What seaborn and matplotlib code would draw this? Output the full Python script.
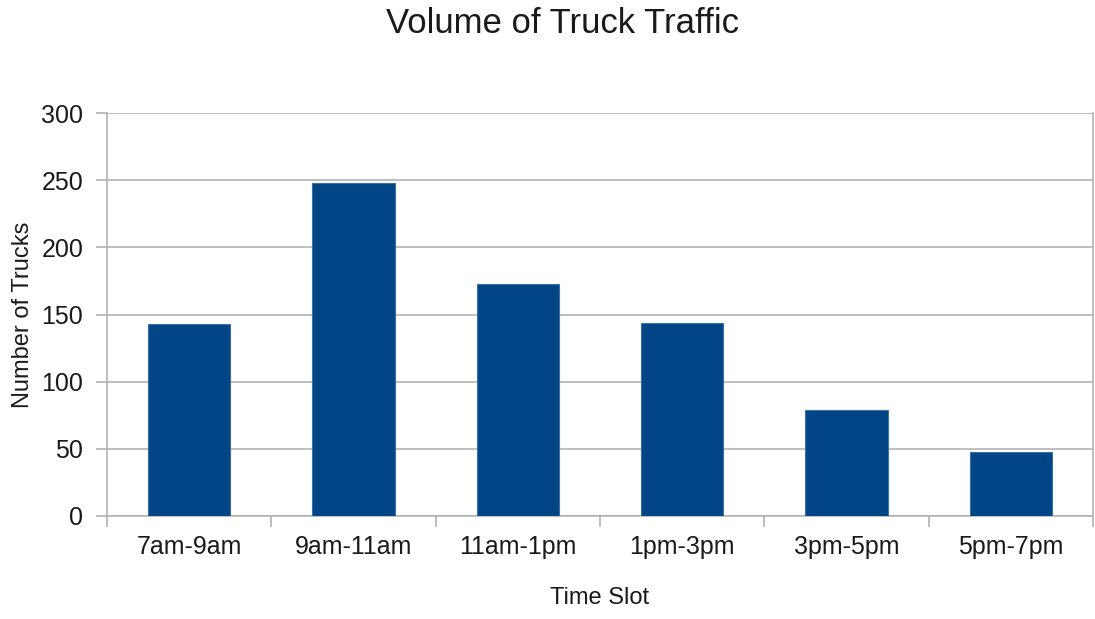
import matplotlib
matplotlib.use("Agg")
import matplotlib.pyplot as plt
import seaborn as sns
import pandas as pd

# Truck counts per two-hour slot
time_slots = ["7am-9am", "9am-11am", "11am-1pm", "1pm-3pm", "3pm-5pm", "5pm-7pm"]
truck_counts = [143, 248, 173, 144, 79, 48]

df = pd.DataFrame({"Time Slot": time_slots, "Number of Trucks": truck_counts})

sns.set_style("white")
plt.rcParams["font.family"] = ["Liberation Sans", "DejaVu Sans"]

grid_color = "#b3b3b3"
bar_color = "#004586"
text_color = "#1a1a1a"

fig = plt.figure(figsize=(10.95, 6.19), dpi=100)
ax = fig.add_axes([0.0977, 0.1664, 0.9005, 0.651])

sns.barplot(data=df, x="Time Slot", y="Number of Trucks", color=bar_color,
            width=0.5, saturation=1, edgecolor="#3d6fa3", linewidth=0.8, ax=ax, zorder=3)

ax.set_ylim(0, 300)
ax.set_xlim(-0.5, len(time_slots) - 0.5)
ax.set_yticks(range(0, 301, 50))
ax.yaxis.grid(True, color=grid_color, linewidth=1.2, zorder=0)
ax.set_axisbelow(True)

for side in ["left", "right", "bottom"]:
    ax.spines[side].set_visible(True)
    ax.spines[side].set_color(grid_color)
    ax.spines[side].set_linewidth(1.2)
ax.spines["top"].set_visible(False)

# category boundary ticks on x axis
ax.set_xticks([i - 0.5 for i in range(len(time_slots) + 1)], minor=True)
ax.set_xticks(range(len(time_slots)))
ax.set_xticklabels(time_slots)
ax.tick_params(axis="x", which="major", length=0, labelsize=18, pad=14, colors=text_color)
ax.tick_params(axis="x", which="minor", length=8, width=1.2, color=grid_color, direction="out", bottom=True)
ax.tick_params(axis="y", which="major", length=8, width=1.2, color=grid_color, direction="out",
               left=True, labelsize=18, pad=9, labelcolor=text_color)

ax.set_xlabel("Time Slot", fontsize=17, labelpad=20, color=text_color)
ax.set_ylabel("Number of Trucks", fontsize=17, labelpad=5, color=text_color)

fig.text(0.514, 0.962, "Volume of Truck Traffic", ha="center", va="center",
         fontsize=25, color=text_color)

fig.savefig("out.png", dpi=100, facecolor="white")
